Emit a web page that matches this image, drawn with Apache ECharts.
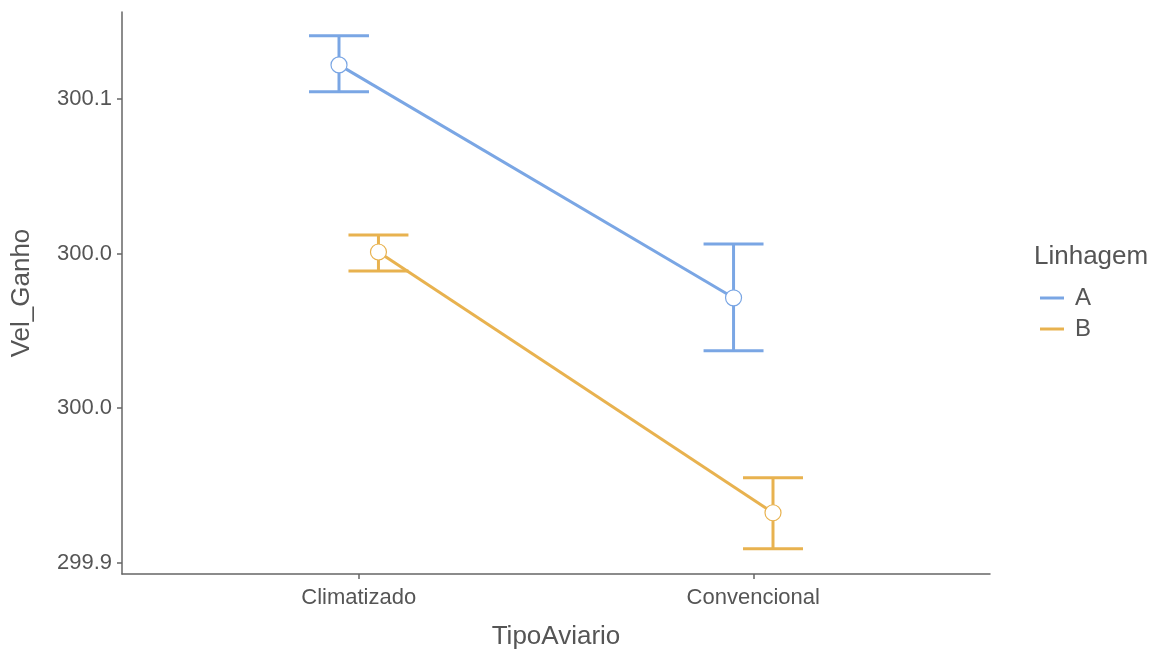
<!DOCTYPE html>
<html><head><meta charset="utf-8">
<script src="https://cdn.jsdelivr.net/npm/echarts@6/dist/echarts.min.js"></script>
<style>html,body{margin:0;padding:0;background:#fff}#c{width:1163px;height:653px}</style>
</head><body><div id="c"></div>
<script>
const categories = ['Climatizado', 'Convencional'];
const groups = ['A', 'B'];
const meanA = [300.0860, 300.0107];
const lowA = [300.0773, 299.9936];
const highA = [300.0954, 300.0281];
const meanB = [300.0255, 299.9412];
const lowB = [300.0194, 299.9296];
const highB = [300.0310, 299.9525];
const yTicks = [299.925, 299.975, 300.025, 300.075];
const colors = ['#7aa6e4', '#e8b24f'];

const dodge = [-0.05, 0.05];
const capHalf = 0.076;
const means = [meanA, meanB], lows = [lowA, lowB], highs = [highA, highB];
const font = 'Liberation Sans';
const textCol = '#555555';

const series = [];
groups.forEach((g, gi) => {
  const errData = categories.map((c, ci) => [ci + 1 + dodge[gi], lows[gi][ci], highs[gi][ci]]);
  series.push({
    type: 'custom', name: g + '_err', z: 2, silent: true,
    data: errData,
    renderItem: (params, api) => {
      const x = api.value(0), lo = api.value(1), hi = api.value(2);
      const pLo = api.coord([x, lo]), pHi = api.coord([x, hi]);
      const pL = api.coord([x - capHalf, hi]), pR = api.coord([x + capHalf, hi]);
      const w = (pR[0] - pL[0]) / 2;
      const st = {stroke: colors[gi], lineWidth: 3};
      return {type: 'group', children: [
        {type: 'line', shape: {x1: pLo[0], y1: pLo[1], x2: pHi[0], y2: pHi[1]}, style: st},
        {type: 'line', shape: {x1: pHi[0] - w, y1: pHi[1], x2: pHi[0] + w, y2: pHi[1]}, style: st},
        {type: 'line', shape: {x1: pLo[0] - w, y1: pLo[1], x2: pLo[0] + w, y2: pLo[1]}, style: st}
      ]};
    }
  });
  series.push({
    type: 'line', name: g, z: 5,
    data: categories.map((c, ci) => [ci + 1 + dodge[gi], means[gi][ci]]),
    symbol: 'circle', symbolSize: 16,
    lineStyle: {color: colors[gi], width: 3},
    itemStyle: {color: '#ffffff', borderColor: colors[gi], borderWidth: 1.2},
    emphasis: {disabled: true}
  });
});

const chart = echarts.init(document.getElementById('c'));
chart.setOption({
  animation: false,
  backgroundColor: '#ffffff',
  textStyle: {fontFamily: font},
  grid: {left: 122, right: 173, top: 12, bottom: 79, containLabel: false, outerBoundsMode: 'none'},
  xAxis: {
    type: 'value', min: 0.4, max: 2.6,
    name: 'TipoAviario', nameLocation: 'middle', nameGap: 50,
    nameTextStyle: {fontFamily: font, fontSize: 26, color: textCol},
    axisLine: {show: true, lineStyle: {color: '#666666', width: 1.5}},
    axisTick: {show: true, customValues: [1, 2], length: 5, lineStyle: {color: '#666666', width: 1.5}},
    axisLabel: {customValues: [1, 2], formatter: v => categories[Math.round(v) - 1], fontFamily: font, fontSize: 22, color: textCol, margin: 13},
    splitLine: {show: false}
  },
  yAxis: {
    type: 'value', min: 299.9214, max: 300.1031,
    name: 'Vel_Ganho', nameLocation: 'middle', nameGap: 87, nameRotate: 90,
    nameTextStyle: {fontFamily: font, fontSize: 26, color: textCol},
    axisLine: {show: true, lineStyle: {color: '#666666', width: 1.5}},
    axisTick: {show: true, customValues: yTicks, length: 5, lineStyle: {color: '#666666', width: 1.5}},
    axisLabel: {customValues: yTicks, formatter: v => v.toFixed(1), fontFamily: font, fontSize: 22, color: textCol, margin: 10},
    splitLine: {show: false}
  },
  legend: {
    orient: 'vertical', left: 1035, top: 281, itemGap: 7,
    icon: 'rect', itemWidth: 24, itemHeight: 3,
    textStyle: {fontFamily: font, fontSize: 24, color: textCol, padding: [0, 0, 0, 6]},
    data: groups.map((g, gi) => ({name: g, itemStyle: {color: colors[gi], borderWidth: 0}}))
  },
  graphic: [{type: 'text', left: 1034, top: 244, style: {text: 'Linhagem', font: '26px "Liberation Sans"', fill: textCol}}],
  series: series
});
</script></body></html>
